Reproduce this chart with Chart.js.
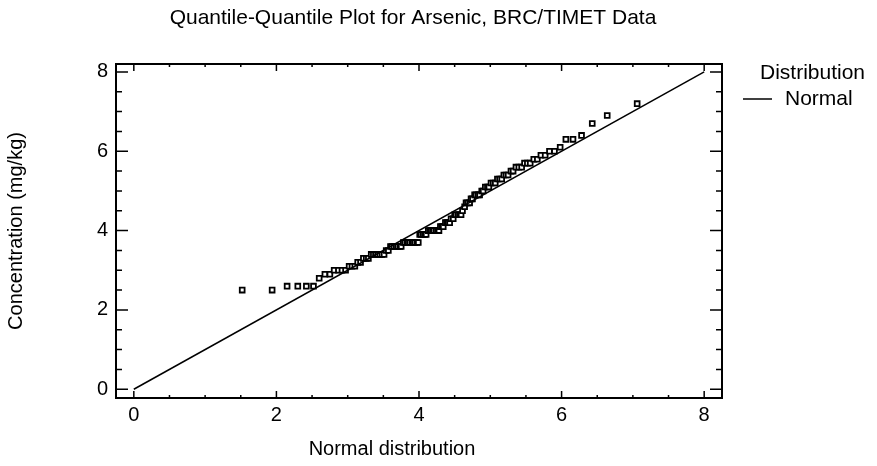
<!DOCTYPE html>
<html lang="en">
<head>
  <meta charset="UTF-8">
  <title>Quantile-Quantile Plot for Arsenic</title>
  <script src="https://cdn.jsdelivr.net/npm/chart.js"></script>
  <style>
    body { margin: 0; background: #fff; }
    #wrap { width: 877px; height: 466px; }
  </style>
</head>
<body>
  <div id="wrap"><canvas id="qq"></canvas></div>

  <script>
    // normal quantiles (x) and sorted arsenic concentrations (y)
    const normalQ = [
      1.52, 1.94, 2.15, 2.30, 2.42, 2.52, 2.60, 2.68, 2.75, 2.81,
      2.87, 2.92, 2.97, 3.02, 3.06, 3.10, 3.14, 3.18, 3.22, 3.26,
      3.29, 3.33, 3.36, 3.39, 3.42, 3.45, 3.48, 3.51, 3.54, 3.57,
      3.60, 3.62, 3.65, 3.68, 3.70, 3.73, 3.75, 3.78, 3.80, 3.83,
      3.85, 3.87, 3.90, 3.92, 3.94, 3.97, 3.99, 4.01, 4.03, 4.06,
      4.08, 4.10, 4.13, 4.15, 4.17, 4.19, 4.21, 4.24, 4.26, 4.28,
      4.30, 4.32, 4.34, 4.37, 4.39, 4.41, 4.43, 4.45, 4.48, 4.50,
      4.52, 4.55, 4.57, 4.59, 4.61, 4.64, 4.66, 4.68, 4.71, 4.73,
      4.75, 4.78, 4.80, 4.83, 4.85, 4.88, 4.90, 4.93, 4.96, 4.98,
      5.01, 5.04, 5.07, 5.10, 5.13, 5.16, 5.19, 5.22, 5.25, 5.29,
      5.32, 5.36, 5.40, 5.44, 5.48, 5.52, 5.56, 5.61, 5.66, 5.71,
      5.77, 5.83, 5.90, 5.98, 6.06, 6.16, 6.28, 6.43, 6.64, 7.06
    ];
    const arsenic = [
      2.5, 2.5, 2.6, 2.6, 2.6, 2.6, 2.8, 2.9, 2.9, 3.0,
      3.0, 3.0, 3.0, 3.1, 3.1, 3.1, 3.2, 3.2, 3.3, 3.3,
      3.3, 3.4, 3.4, 3.4, 3.4, 3.4, 3.4, 3.4, 3.5, 3.5,
      3.6, 3.6, 3.6, 3.6, 3.6, 3.6, 3.6, 3.7, 3.7, 3.7,
      3.7, 3.7, 3.7, 3.7, 3.7, 3.7, 3.7, 3.9, 3.9, 3.9,
      3.9, 3.9, 4.0, 4.0, 4.0, 4.0, 4.0, 4.0, 4.0, 4.0,
      4.1, 4.1, 4.1, 4.2, 4.2, 4.2, 4.2, 4.3, 4.3, 4.4,
      4.4, 4.4, 4.4, 4.4, 4.5, 4.6, 4.7, 4.7, 4.7, 4.8,
      4.8, 4.9, 4.9, 4.9, 4.9, 5.0, 5.0, 5.1, 5.1, 5.1,
      5.2, 5.2, 5.2, 5.3, 5.3, 5.3, 5.4, 5.4, 5.4, 5.5,
      5.5, 5.6, 5.6, 5.6, 5.7, 5.7, 5.7, 5.8, 5.8, 5.9,
      5.9, 6.0, 6.0, 6.1, 6.3, 6.3, 6.4, 6.7, 6.9, 7.2
    ];
    const refLineX = [0, 8];
    const refLineY = [0, 8];
    const majorTicks = [0, 2, 4, 6, 8];
    const minorTicks = [0.5, 1, 1.5, 2.5, 3, 3.5, 4.5, 5, 5.5, 6.5, 7, 7.5];

    const FONT = "'Liberation Sans', Arial, sans-serif";

    // frame with inward ticks on all four sides, plus titles and legend
    const framePlugin = {
      id: "frame",
      afterDraw(chart) {
        const { ctx, chartArea: a, scales } = chart;
        const xs = scales.x, ys = scales.y;
        ctx.save();
        ctx.strokeStyle = "#000";
        ctx.lineWidth = 2;
        ctx.strokeRect(a.left, a.top, a.right - a.left, a.bottom - a.top);

        ctx.lineWidth = 1.5;
        ctx.beginPath();
        const tickX = (v, len) => {
          const px = xs.getPixelForValue(v);
          ctx.moveTo(px, a.bottom); ctx.lineTo(px, a.bottom - len);
          ctx.moveTo(px, a.top); ctx.lineTo(px, a.top + len);
        };
        const tickY = (v, len) => {
          const py = ys.getPixelForValue(v);
          ctx.moveTo(a.left, py); ctx.lineTo(a.left + len, py);
          ctx.moveTo(a.right, py); ctx.lineTo(a.right - len, py);
        };
        majorTicks.forEach(v => { tickX(v, 7); tickY(v, 12); });
        minorTicks.forEach(v => { tickX(v, 3); tickY(v, 6); });
        ctx.stroke();

        ctx.fillStyle = "#000";
        ctx.textAlign = "center";
        ctx.textBaseline = "middle";
        ctx.font = "21px " + FONT;
        ctx.fillText("Quantile-Quantile Plot for Arsenic, BRC/TIMET Data", 413, 18);

        ctx.font = "20px " + FONT;
        ctx.fillText("Normal distribution", 392, 449);

        // legend
        ctx.font = "21px " + FONT;
        ctx.textAlign = "left";
        ctx.fillText("Distribution", 760, 73);
        ctx.fillText("Normal", 785, 99);
        ctx.lineWidth = 1.5;
        ctx.beginPath();
        ctx.moveTo(743, 99); ctx.lineTo(772, 99);
        ctx.stroke();
        ctx.restore();
      }
    };

    new Chart(document.getElementById("qq"), {
      type: "scatter",
      data: {
        datasets: [
          {
            label: "Data",
            data: normalQ.map((x, i) => ({ x: x, y: arsenic[i] })),
            pointStyle: "rect",
            pointRadius: 3.4,
            pointBorderWidth: 1.8,
            pointBackgroundColor: "#fff",
            pointBorderColor: "#000",
            showLine: false
          },
          {
            label: "Normal",
            data: refLineX.map((x, i) => ({ x: x, y: refLineY[i] })),
            showLine: true,
            borderColor: "#000",
            borderWidth: 1.5,
            pointRadius: 0,
            order: -1
          }
        ]
      },
      options: {
        responsive: true,
        maintainAspectRatio: false,
        animation: false,
        devicePixelRatio: 1,
        layout: { padding: { left: 0, right: 155, top: 64, bottom: 0 } },
        plugins: {
          legend: { display: false },
          title: { display: false },
          tooltip: { enabled: false }
        },
        scales: {
          x: {
            type: "linear",
            min: -0.25,
            max: 8.25,
            afterBuildTicks: s => { s.ticks = majorTicks.map(v => ({ value: v })); },
            afterFit: s => { s.height = 68; },
            grid: { display: false, drawTicks: false },
            border: { display: false },
            ticks: { color: "#000", font: { family: FONT, size: 20 }, padding: 5 }
          },
          y: {
            type: "linear",
            min: -0.22,
            max: 8.2,
            afterBuildTicks: s => { s.ticks = majorTicks.map(v => ({ value: v })); },
            afterFit: s => { s.width = 116; },
            grid: { display: false, drawTicks: false },
            border: { display: false },
            ticks: { color: "#000", font: { family: FONT, size: 20 }, padding: 8 },
            title: {
              display: true,
              text: "Concentration (mg/kg)",
              color: "#000",
              font: { family: FONT, size: 20 },
              padding: { bottom: 0 }
            }
          }
        }
      },
      plugins: [framePlugin]
    });
  </script>
</body>
</html>
